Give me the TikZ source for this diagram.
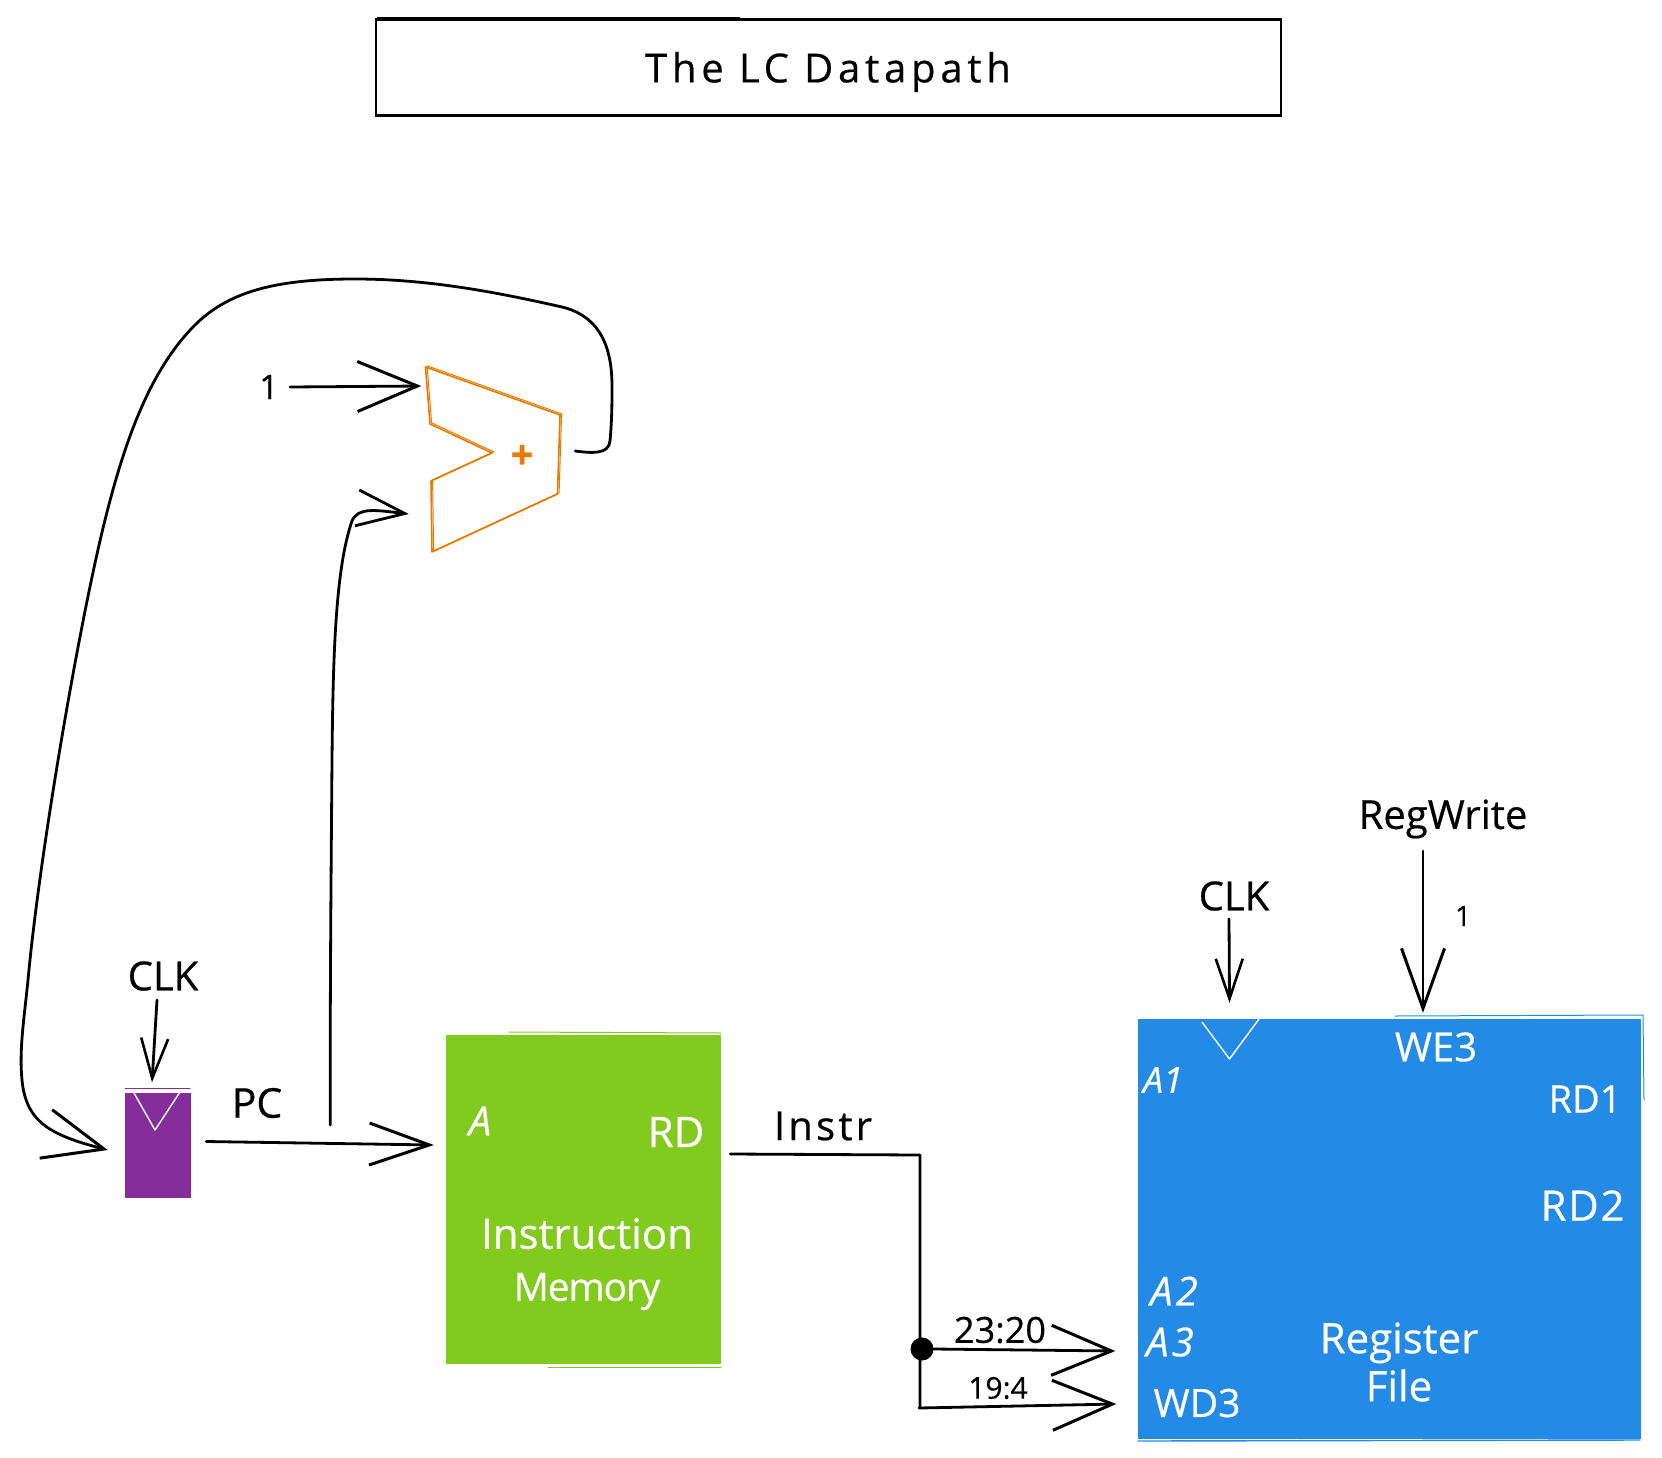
\documentclass[tikz,border=0pt]{standalone}
\usepackage{fontspec}
\setmainfont{Open Sans}[FakeBold=0.5]
\usetikzlibrary{arrows.meta,calc}
\definecolor{adderc}{HTML}{EA7A00}
\definecolor{regc}{HTML}{862D9C}
\definecolor{memc}{HTML}{82CB1E}
\definecolor{rfc}{HTML}{238AE6}
\tikzset{
  x=1pt,y=-1pt,
  txt/.style={inner sep=0pt,font=\fontsize{#1}{#1}\selectfont},
  wtxt/.style={txt=#1,text=white},
  wire/.style={line width=2.8pt,line join=round,line cap=round,draw=black},
  bigbarb/.style={-{Straight Barb[length=60pt,width=50pt,line width=3pt]}},
  midbarb/.style={-{Straight Barb[length=60pt,width=42pt,line width=3pt]}},
  curvebarb/.style={-{Straight Barb[length=48pt,width=36pt,line width=2.8pt]}},
  clkbarb/.style={-{Straight Barb[length=40pt,width=27pt,line width=2.6pt]}},
  tallbarb/.style={-{Straight Barb[length=60pt,width=43pt,line width=3pt]}},
  blockbox/.style={inner sep=0pt,anchor=center},
  sketchline/.style={line width=1pt,line cap=round},
}
\begin{document}
\begin{tikzpicture}
\useasboundingbox (0,0) rectangle (1662,1458);
% title
\node[blockbox,draw=black,line width=2.8pt,minimum width=905pt,minimum height=96pt] (title) at (828.5,67.5) {};
\node[txt=40] (titletext) at (828,72) {\addfontfeature{LetterSpace=12}The LC Datapath};
\draw[line width=.9pt] (377,17) -- (740,17);
% adder
\node[blockbox,minimum width=135pt,minimum height=185pt] (adder) at (492.5,459.5) {};
\draw[adderc,line width=1.6pt,line join=round,preaction={draw=adderc,line width=1pt,transform canvas={shift={(1.6pt,1.2pt)}}}]
  (425.5,367) -- (560,415) -- (557.5,494) -- (432,552) -- (431,481) -- (492,453) -- (430,424) -- cycle;
\node[txt=40,text=adderc,font=\bfseries\fontsize{40}{40}\selectfont] (plus) at (522,457) {+};
% program counter register
\node[blockbox,fill=regc,minimum width=66pt,minimum height=105pt] (pcreg) at (158,1145) {};
\draw[regc,sketchline] (125,1088) -- (190,1088);
\draw[white,sketchline] (125,1091) -- (190,1091);
\draw[white,line width=1.4pt,line join=round] (134,1093) -- (155,1130) -- (180,1092);
\node[txt=40] (clkone) at (163,976) {CLK};
\node[txt=41] (pclabel) at (257,1103) {PC};
% instruction memory
\node[blockbox,fill=memc,minimum width=275pt,minimum height=329pt] (imem) at (583.5,1199.5) {};
\draw[memc,sketchline] (509,1032) -- (721,1033);
\draw[memc,sketchline] (548,1367) -- (721,1367);
\node[wtxt=40] (imema) at (480,1121) {\itshape A};
\node[wtxt=42] (imemrd) at (676,1132) {RD};
\node[wtxt=42,align=center,font=\fontsize{42}{52}\selectfont] (imemname) at (587,1264) {Instruction\\{\addfontfeature{LetterSpace=-3}\fontsize{39}{52}\selectfont Memory}};
\node[txt=40] (instr) at (823,1126) {\addfontfeature{LetterSpace=8}Instr};
% register file
\node[blockbox,fill=rfc,minimum width=503pt,minimum height=420pt] (rf) at (1389,1229) {};
\draw[rfc,sketchline] (1395,1016) -- (1643,1015) -- (1644,1100);
\draw[rfc,line width=1.4pt,line cap=round] (1138,1441) -- (1640,1440);
\draw[white,line width=1.4pt,line join=round] (1202,1022) -- (1229.5,1059) -- (1259,1019);
\node[wtxt=36] (rfaone) at (1163,1080) {\itshape A1};
\node[wtxt=40] (rfwe) at (1436,1047) {WE3};
\node[wtxt=38] (rfrdone) at (1585,1099) {RD1};
\node[wtxt=42] (rfrdtwo) at (1582.5,1205.5) {\addfontfeature{LetterSpace=4}RD2};
\node[wtxt=40] (rfatwo) at (1174,1291) {\itshape\addfontfeature{LetterSpace=8}A2};
\node[wtxt=40] (rfathree) at (1170,1342) {\itshape\addfontfeature{LetterSpace=8}A3};
\node[wtxt=39] (rfwd) at (1197,1403) {WD3};
\node[wtxt=43,align=center,font=\fontsize{42}{48}\selectfont] (rfname) at (1399,1362) {Register\\File};
\node[txt=40] (clktwo) at (1234,896) {CLK};
\node[txt=40] (regwrite) at (1443,819) {RegWrite};
\node[txt=28] (oneb) at (1463,916) {1};
% junction
\node[circle,fill=black,inner sep=0pt,minimum size=23pt] (dot) at (922,1349) {};
\node[txt=36] (bitsa) at (1000,1330) {23:20};
\node[txt=30] (bitsb) at (998,1388) {19:4};
\node[txt=34] (onea) at (269,387) {1};
% connectors
\draw[wire,bigbarb] ([xshift=11pt]onea.east) -- ([xshift=-3.5pt,yshift=73.5pt]adder.west);
\draw[wire,curvebarb] ([xshift=139pt,yshift=20pt]pcreg.east)
  .. controls (330,1000) and (331,880) .. (332,760)
  .. controls (333,660) and (335,570) .. (352,521)
  .. controls (358,507) and (375,510) .. ([xshift=-16pt,yshift=-54.5pt]adder.west);
\draw[wire,bigbarb] ([xshift=15pt,yshift=8.5pt]adder.east)
  .. controls (590,453) and (609,455) .. (610,441)
  .. controls (612,420) and (612,400) .. (612,386)
  .. controls (612,340) and (595,315) .. (562,307)
  .. controls (500,293) and (430,279) .. (355,279)
  .. controls (280,279) and (230,290) .. (195,325)
  .. controls (150,370) and (125,440) .. (105,520)
  .. controls (80,620) and (40,850) .. (28,980)
  .. controls (24,1020) and (19,1050) .. (22,1080)
  .. controls (26,1122) and (50,1135) .. ([xshift=-17pt,yshift=-5pt]pcreg.west);
\draw[wire,clkbarb] ([xshift=-6pt,yshift=-24pt]clkone.center) -- ([xshift=-6pt,yshift=10pt]pcreg.north);
\draw[wire,midbarb] ([xshift=15pt,yshift=3.5pt]pcreg.east) -- ([xshift=-12pt,yshift=54.5pt]imem.west);
\draw[wire] ([xshift=9pt,yshift=45.5pt]imem.east) -- (920,1155) -- (920,1408);
\draw[wire,bigbarb] (dot.east) -- ([xshift=-22pt,yshift=-122pt]rf.west);
\draw[wire,bigbarb] (919,1408) -- ([xshift=-21pt,yshift=-175pt]rf.west);
\draw[wire,clkbarb] ([xshift=-5pt,yshift=-23pt]clktwo.center) -- ([xshift=-159.5pt,yshift=16pt]rf.north);
\draw[wire,tallbarb] ([xshift=-20pt,yshift=-32pt]regwrite.center) -- ([xshift=34pt,yshift=6pt]rf.north);
\end{tikzpicture}
\end{document}
